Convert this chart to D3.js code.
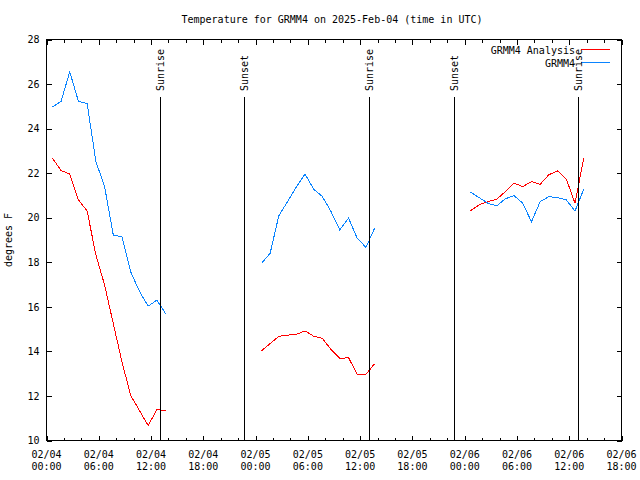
<!DOCTYPE html>
<html>
<head>
<meta charset="utf-8">
<script src="https://cdn.jsdelivr.net/npm/d3@7"></script>
<style>
  html, body { margin: 0; padding: 0; background: #fff; }
  svg { display: block; }
  text { font-family: "DejaVu Sans Mono", "Liberation Mono", monospace; font-size: 10px; fill: #000; }
</style>
</head>
<body>
<svg id="chart" width="640" height="480"></svg>
<script>
// ---------------- data ----------------
const chartTitle = "Temperature for GRMM4 on 2025-Feb-04 (time in UTC)";
const yAxisLabel = "degrees F";
const seriesNames = ["GRMM4 Analysis", "GRMM4"];
const seriesColors = ["#ff0000", "#0a84ff"];

// each segment: hourly values starting at the given time
const segmentStarts = ["2025-02-04T00:40:00Z", "2025-02-05T00:40:00Z", "2025-02-06T00:40:00Z"];

const analysisSeg1 = [22.68, 22.12, 21.96, 20.80, 20.30, 18.33, 16.98, 15.25, 13.52, 12.02, 11.35, 10.67, 11.38, 11.35];
const analysisSeg2 = [14.02, 14.35, 14.68, 14.73, 14.76, 14.92, 14.68, 14.58, 14.08, 13.68, 13.72, 12.97, 12.97, 13.45];
const analysisSeg3 = [20.32, 20.58, 20.72, 20.83, 21.17, 21.55, 21.40, 21.62, 21.50, 21.93, 22.10, 21.73, 20.65, 22.68];

const obsSeg1 = [24.97, 25.22, 26.55, 25.22, 25.12, 22.53, 21.40, 19.22, 19.15, 17.57, 16.70, 16.03, 16.30, 15.70];
const obsSeg2 = [17.95, 18.40, 20.09, 20.72, 21.37, 21.96, 21.28, 20.95, 20.27, 19.45, 19.98, 19.08, 18.67, 19.53];
const obsSeg3 = [21.15, 20.90, 20.65, 20.53, 20.85, 20.99, 20.65, 19.82, 20.72, 20.95, 20.90, 20.80, 20.30, 21.28];

const sunEvents = [
  { label: "Sunrise", time: "2025-02-04T13:03:00Z" },
  { label: "Sunset",  time: "2025-02-04T22:42:00Z" },
  { label: "Sunrise", time: "2025-02-05T13:03:00Z" },
  { label: "Sunset",  time: "2025-02-05T22:47:00Z" },
  { label: "Sunrise", time: "2025-02-06T13:02:00Z" }
];

const xDomain = ["2025-02-04T00:00:00Z", "2025-02-06T18:00:00Z"];
const yTicks = [10, 12, 14, 16, 18, 20, 22, 24, 26, 28];

// ---------------- chart ----------------
const svg = d3.select("#chart");
const L = 46.5, R = 621.5, T = 39.5, B = 440.5;

const x = d3.scaleUtc().domain(xDomain.map(d => new Date(d))).range([L, R]);
const y = d3.scaleLinear().domain([10, 28]).range([B, T]);

const majorTicks = d3.utcHour.every(6).range(new Date(xDomain[0]), d3.utcHour.offset(new Date(xDomain[1]), 1));
const minorTicks = d3.utcHour.every(2).range(new Date(xDomain[0]), d3.utcHour.offset(new Date(xDomain[1]), 1))
  .filter(d => d.getUTCHours() % 6 !== 0);

const g = svg.append("g").attr("shape-rendering", "crispEdges");

// minor x ticks bottom & top
g.selectAll(".minb").data(minorTicks).join("line")
  .attr("x1", d => Math.round(x(d)) + 0.5).attr("x2", d => Math.round(x(d)) + 0.5)
  .attr("y1", B).attr("y2", B - 3).attr("stroke", "#000");
g.selectAll(".mint").data(minorTicks).join("line")
  .attr("x1", d => Math.round(x(d)) + 0.5).attr("x2", d => Math.round(x(d)) + 0.5)
  .attr("y1", T).attr("y2", T + 3).attr("stroke", "#000");

// bottom axis with major ticks
const xAxis = d3.axisBottom(x).tickValues(majorTicks).tickSize(-5).tickFormat("");
const gx = svg.append("g").attr("transform", `translate(0,${B})`).attr("shape-rendering", "crispEdges").call(xAxis);
gx.select(".domain").remove();
const xTop = d3.axisTop(x).tickValues(majorTicks).tickSize(-5).tickFormat("");
const gxt = svg.append("g").attr("transform", `translate(0,${T})`).attr("shape-rendering", "crispEdges").call(xTop);
gxt.select(".domain").remove();

// x tick labels (two lines)
const fmtDate = d3.utcFormat("%m/%d"), fmtTime = d3.utcFormat("%H:%M");
const xl = svg.append("g");
majorTicks.forEach(d => {
  const t = xl.append("text").attr("text-anchor", "middle").attr("x", x(d));
  t.append("tspan").attr("x", x(d)).attr("y", 458).text(fmtDate(d));
  t.append("tspan").attr("x", x(d)).attr("y", 470).text(fmtTime(d));
});

// y axis left & right
const yAxis = d3.axisLeft(y).tickValues(yTicks).tickSize(-5).tickPadding(7).tickFormat(d3.format("d"));
const gy = svg.append("g").attr("transform", `translate(${L},0)`).attr("shape-rendering", "crispEdges").call(yAxis);
gy.select(".domain").remove();
gy.selectAll("text").attr("font-family", null).attr("font-size", null);
const yRight = d3.axisRight(y).tickValues(yTicks).tickSize(-5).tickFormat("");
const gyr = svg.append("g").attr("transform", `translate(${R},0)`).attr("shape-rendering", "crispEdges").call(yRight);
gyr.select(".domain").remove();

// border
svg.append("rect").attr("x", L).attr("y", T).attr("width", R - L).attr("height", B - T)
  .attr("fill", "none").attr("stroke", "#000").attr("shape-rendering", "crispEdges");

// title & y label
svg.append("text").attr("x", 332).attr("y", 23).attr("text-anchor", "middle").text(chartTitle);
svg.append("text").attr("transform", "translate(12,240) rotate(-90)").attr("text-anchor", "middle").text(yAxisLabel);

// data lines
const line = d3.line().x(d => x(d.t)).y(d => y(d.v));
function seg(startStr, vals) {
  const s = new Date(startStr);
  return vals.map((v, i) => ({ t: d3.utcHour.offset(s, i), v }));
}
const analysisSegs = [analysisSeg1, analysisSeg2, analysisSeg3].map((v, i) => seg(segmentStarts[i], v));
const obsSegs = [obsSeg1, obsSeg2, obsSeg3].map((v, i) => seg(segmentStarts[i], v));

const lines = svg.append("g").attr("fill", "none").attr("stroke-width", 1).attr("shape-rendering", "crispEdges");
lines.selectAll(".a").data(analysisSegs).join("path").attr("d", line).attr("stroke", seriesColors[0]);
lines.selectAll(".o").data(obsSegs).join("path").attr("d", line).attr("stroke", seriesColors[1]);

// legend
const legend = svg.append("g");
seriesNames.forEach((n, i) => {
  const yy = 49.5 + i * 13;
  legend.append("text").attr("x", 575).attr("y", yy + 4).attr("text-anchor", "end").text(n);
  legend.append("line").attr("x1", 581).attr("x2", 610).attr("y1", yy).attr("y2", yy)
    .attr("stroke", seriesColors[i]).attr("shape-rendering", "crispEdges");
});

// sun events
const sg = svg.append("g");
sunEvents.forEach(e => {
  const xx = Math.round(x(new Date(e.time))) + 0.5;
  sg.append("line").attr("x1", xx).attr("x2", xx).attr("y1", 97).attr("y2", B)
    .attr("stroke", "#000").attr("shape-rendering", "crispEdges");
  sg.append("text").attr("transform", `translate(${xx + 3.5},91) rotate(-90)`).attr("text-anchor", "start").text(e.label);
});
</script>
</body>
</html>
